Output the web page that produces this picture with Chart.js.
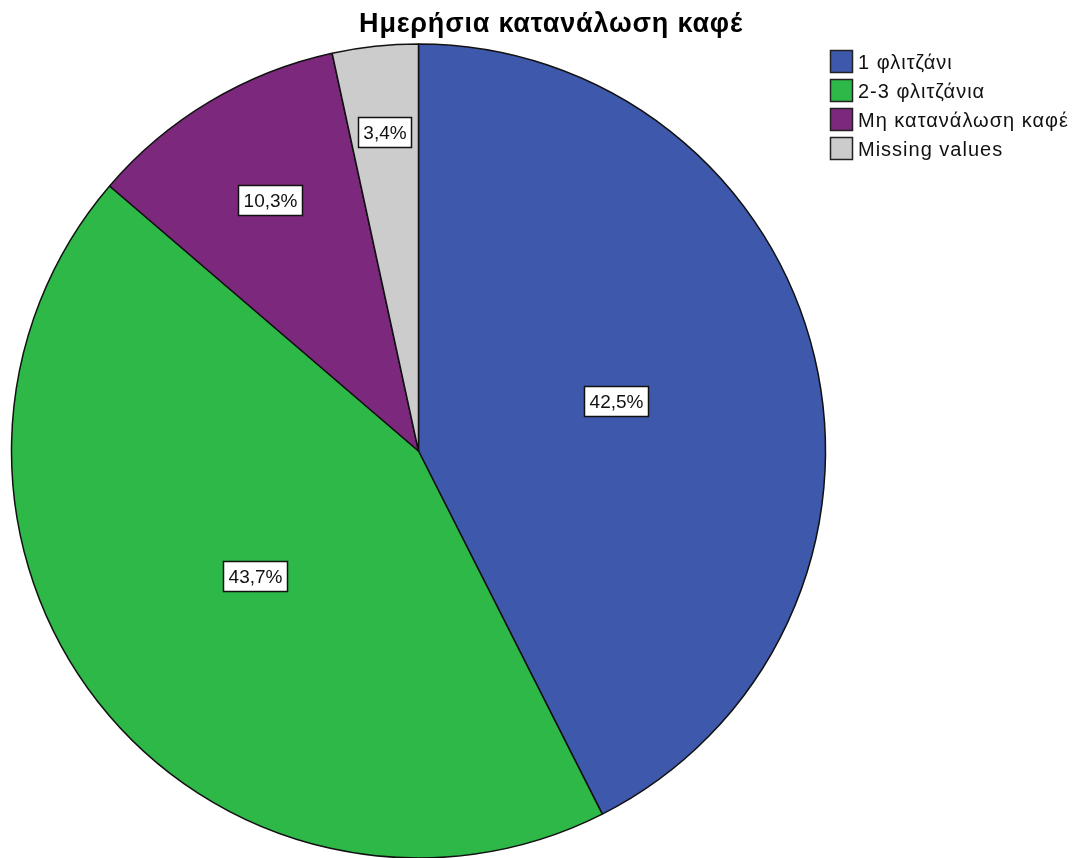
<!DOCTYPE html>
<html>
<head>
<meta charset="utf-8">
<script src="https://cdn.jsdelivr.net/npm/chart.js@4"></script>
<style>
    body { margin: 0; background: #fff; }
    canvas { display: block; }
</style>
</head>
<body>
<canvas id="coffeeChart" width="1091" height="858"></canvas>
<script>
const categories = ['1 φλιτζάνι', '2-3 φλιτζάνια', 'Μη κατανάλωση καφέ', 'Missing values'];
const percents = [42.5, 43.7, 10.3, 3.4];
const sliceColors = ['#3E58AC', '#2EB848', '#7C287D', '#CCCCCC'];
// how far out along each slice's middle the value box sits (fraction of radius)
const labelRadius = [0.5, 0.51, 0.71, 0.78];

const FONT = '"Liberation Sans", Arial, sans-serif';

function formatPct(v) {
    return v.toFixed(1).replace('.', ',') + '%';
}

const valueBoxes = {
    id: 'valueBoxes',
    afterDatasetsDraw(chart) {
        const ctx = chart.ctx;
        const meta = chart.getDatasetMeta(0);
        ctx.save();
        ctx.font = '19px ' + FONT;
        ctx.textAlign = 'center';
        ctx.textBaseline = 'middle';
        meta.data.forEach((arc, i) => {
            const p = arc.getProps(['x', 'y', 'startAngle', 'endAngle', 'outerRadius'], true);
            const mid = (p.startAngle + p.endAngle) / 2;
            const r = p.outerRadius * labelRadius[i];
            const x = p.x + Math.cos(mid) * r;
            const y = p.y + Math.sin(mid) * r - 3;
            const text = formatPct(percents[i]);
            const w = Math.round(ctx.measureText(text).width + 10);
            const h = 30;
            const left = Math.round(x - w / 2) + 0.5;
            const top = Math.round(y - h / 2) + 0.5;
            ctx.fillStyle = '#fff';
            ctx.fillRect(left, top, w, h);
            ctx.strokeStyle = '#111';
            ctx.lineWidth = 1.5;
            ctx.strokeRect(left, top, w, h);
            ctx.fillStyle = '#111';
            ctx.fillText(text, left + w / 2, top + h / 2 + 1);
        });
        ctx.restore();
    }
};

const titleAndLegend = {
    id: 'titleAndLegend',
    afterDraw(chart) {
        const ctx = chart.ctx;
        ctx.save();
        ctx.fillStyle = '#000';
        ctx.font = 'bold 27px ' + FONT;
        ctx.letterSpacing = '0.8px';
        ctx.textAlign = 'center';
        ctx.textBaseline = 'alphabetic';
        ctx.fillText('Ημερήσια κατανάλωση καφέ', 551, 32);

        ctx.font = '20px ' + FONT;
        ctx.letterSpacing = '1px';
        ctx.textAlign = 'left';
        ctx.textBaseline = 'middle';
        const tops = [50, 79, 108, 137];
        categories.forEach((name, i) => {
            const y = tops[i];
            ctx.fillStyle = sliceColors[i];
            ctx.fillRect(830.5, y + 0.5, 22, 22);
            ctx.strokeStyle = '#222';
            ctx.lineWidth = 1.5;
            ctx.strokeRect(830.5, y + 0.5, 22, 22);
            ctx.fillStyle = '#111';
            ctx.fillText(name, 858, y + 13);
        });
        ctx.restore();
    }
};

new Chart(document.getElementById('coffeeChart'), {
    type: 'pie',
    data: {
        labels: categories,
        datasets: [{
            data: percents,
            backgroundColor: sliceColors,
            borderColor: '#111',
            borderWidth: 1.5
        }]
    },
    options: {
        responsive: false,
        devicePixelRatio: 1,
        animation: false,
        radius: 407,
        layout: {
            padding: { left: 0, right: 254, top: 44, bottom: 0 }
        },
        plugins: {
            legend: { display: false },
            title: { display: false },
            tooltip: { enabled: false }
        }
    },
    plugins: [valueBoxes, titleAndLegend]
});
</script>
</body>
</html>
